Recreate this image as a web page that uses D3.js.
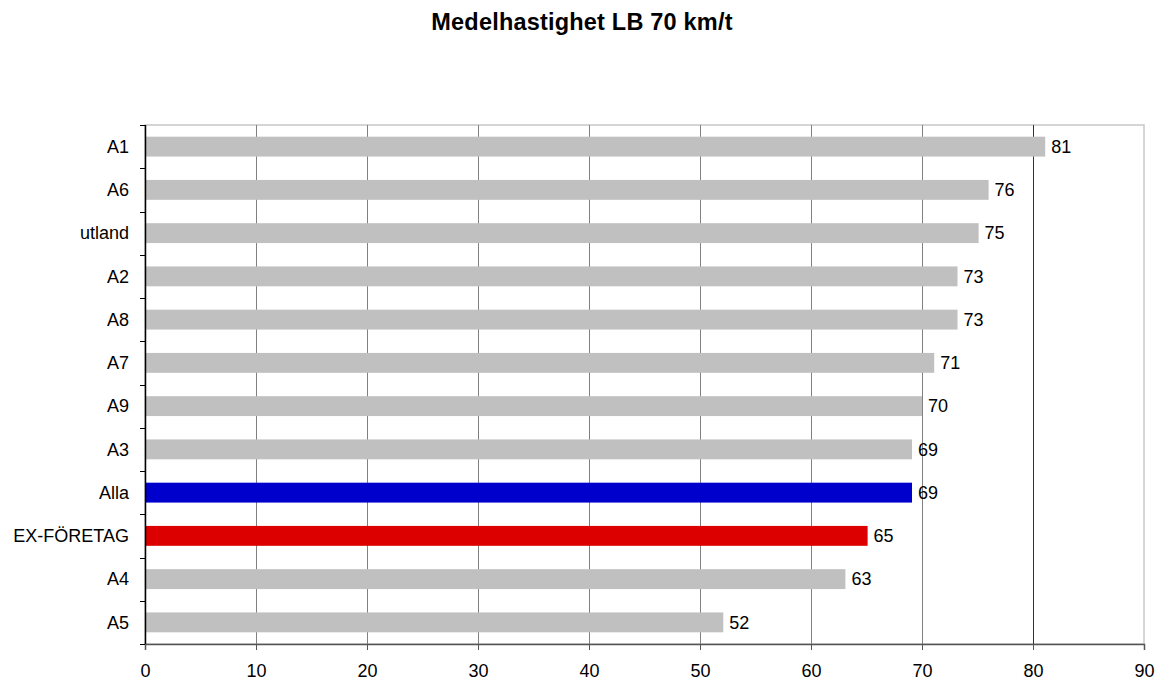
<!DOCTYPE html>
<html><head><meta charset="utf-8">
<script src="https://cdn.jsdelivr.net/npm/d3@7"></script>
<style>body{margin:0;background:#fff}text{font-family:"Liberation Sans",Arial,sans-serif}</style>
</head><body>
<svg id="c" width="1158" height="682"></svg>
<script>
const categories = ["A1","A6","utland","A2","A8","A7","A9","A3","Alla","EX-FÖRETAG","A4","A5"];
const values = [81.1,76,75.1,73.2,73.2,71.1,70,69.1,69.1,65.1,63.1,52.1];
const colors = ["#c0c0c0","#c0c0c0","#c0c0c0","#c0c0c0","#c0c0c0","#c0c0c0","#c0c0c0","#c0c0c0","#0000cc","#dd0000","#c0c0c0","#c0c0c0"];
const xTicks = [0,10,20,30,40,50,60,70,80,90];
const title = "Medelhastighet LB 70 km/t";

const svg = d3.select("#c");
const L=145, R=1144, T=125, B=644;
const x = d3.scaleLinear().domain([0,90]).range([L,R]);
const y = d3.scaleBand().domain(categories).range([T,B]).paddingInner(0.54).paddingOuter(0.27);

svg.append("text").attr("x",582).attr("y",30).attr("text-anchor","middle")
  .attr("font-weight","bold").attr("font-size",23.5).attr("letter-spacing",0.2).text(title);

// plot border
svg.append("rect").attr("x",L).attr("y",T).attr("width",R-L).attr("height",B-T)
  .attr("fill","none").attr("stroke","#c8c8c8").attr("stroke-width",1.5);

// gridlines
svg.append("g").selectAll("line").data(xTicks.filter(d=>d>0&&d<90)).join("line")
  .attr("x1",d=>Math.round(x(d))+0.5).attr("x2",d=>Math.round(x(d))+0.5)
  .attr("y1",T).attr("y2",B).attr("stroke",d=>d===80?"#333":"#808080").attr("stroke-width",1);

// bars
svg.append("g").selectAll("rect").data(categories).join("rect")
  .attr("x",x(0)).attr("y",d=>y(d)).attr("height",y.bandwidth())
  .attr("width",(d,i)=>x(values[i])-x(0)).attr("fill",(d,i)=>colors[i]);

// value labels
svg.append("g").selectAll("text").data(categories).join("text")
  .attr("x",(d,i)=>x(values[i])+6).attr("y",d=>y(d)+y.bandwidth()/2)
  .attr("dy","0.35em").attr("font-size",18).text((d,i)=>Math.round(values[i]));

// x axis
const xa = svg.append("g").attr("transform",`translate(0,${B})`)
  .call(d3.axisBottom(x).tickValues(xTicks).tickSize(6).tickPadding(14));
xa.select(".domain").attr("stroke","#555").attr("stroke-width",1.5);
xa.selectAll(".tick line").attr("stroke","#555");
xa.selectAll("text").attr("font-size",18).attr("font-family","Liberation Sans, Arial, sans-serif").attr("fill","#000");

// y axis
const ya = svg.append("g").attr("transform",`translate(${L},0)`);
ya.append("line").attr("x1",0.5).attr("x2",0.5).attr("y1",T).attr("y2",B).attr("stroke","#000").attr("stroke-width",1.5);
const bounds = d3.range(categories.length+1).map(i=>T+i*(B-T)/categories.length);
ya.selectAll("line.t").data(bounds).join("line").attr("class","t")
  .attr("x1",-5).attr("x2",0).attr("y1",d=>Math.round(d)+0.5).attr("y2",d=>Math.round(d)+0.5).attr("stroke","#000");
ya.selectAll("text").data(categories).join("text")
  .attr("x",-16).attr("y",d=>y(d)+y.bandwidth()/2).attr("dy","0.35em")
  .attr("text-anchor","end").attr("font-size",18).text(d=>d);
</script>
</body></html>
